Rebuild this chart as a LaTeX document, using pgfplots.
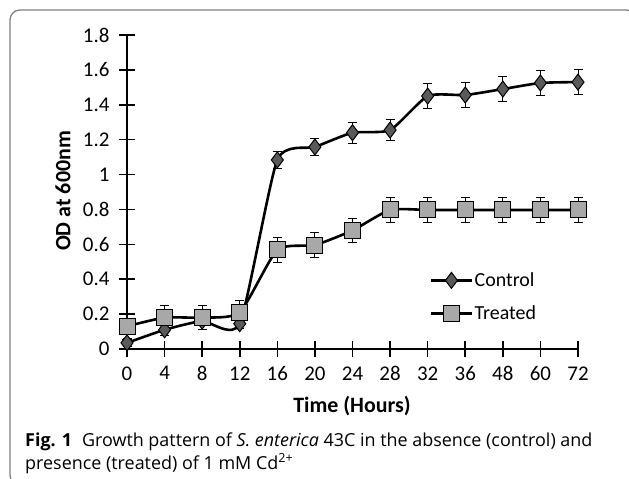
\documentclass[border=0pt]{standalone}
\usepackage{pgfplots}
\pgfplotsset{compat=1.18}
\usepackage{fontspec}
\setmainfont{Carlito}
\newfontfamily\capfont{Open Sans}
\definecolor{ctrlfill}{HTML}{5A5A5A}
\definecolor{trtfill}{HTML}{A8A8A8}
\pgfplotstableread{
x y e
0 0.035 0.02
1 0.11 0.03
2 0.16 0.05
3 0.145 0.03
4 1.084 0.05
5 1.158 0.05
6 1.24 0.06
7 1.255 0.06
8 1.45 0.07
9 1.456 0.07
10 1.49 0.07
11 1.525 0.07
12 1.53 0.07
}\control
\pgfplotstableread{
x y e
0 0.13 0.07
1 0.18 0.07
2 0.18 0.07
3 0.21 0.07
4 0.568 0.07
5 0.596 0.07
6 0.68 0.07
7 0.797 0.07
8 0.797 0.07
9 0.797 0.07
10 0.797 0.07
11 0.797 0.07
12 0.797 0.07
}\treated
\begin{document}
\begin{tikzpicture}
\useasboundingbox (0bp,0bp) rectangle (629bp,479bp);
\begin{scope}
\clip (0bp,0bp) rectangle (629bp,479bp);
\draw[black!50, line width=1.3bp, rounded corners=10bp] (10bp,-6bp) rectangle (636bp,469bp);
\end{scope}
\begin{axis}[
  at={(127bp,130bp)}, anchor=south west,
  scale only axis, width=451bp, height=314bp,
  xmin=0, xmax=12, ymin=0, ymax=1.8,
  clip=false,
  axis lines=left,
  axis line style={-, line width=1.6bp},
  xtick={0,...,12},
  xticklabels={0,4,8,12,16,20,24,28,32,36,48,60,72},
  ytick={0,0.2,0.4,0.6,0.8,1,1.2,1.4,1.6,1.8},
  yticklabels={0,0.2,0.4,0.6,0.8,1,1.2,1.4,1.6,1.8},
  tick align=center,
  major tick length=16bp,
  tick style={line width=1.6bp, black},
  /pgf/number format/assume math mode=true,
  ticklabel style={font=\fontsize{21}{22}\selectfont},
  yticklabel style={xshift=-6bp},
  xticklabel style={yshift=-6bp},
  legend style={at={(axis cs:8.06,0.45)}, anchor=north west, draw=none, fill=none,
    font=\fontsize{20}{21}\selectfont, row sep=14bp, inner sep=0pt, cells={anchor=west}},
  legend cell align=left,
  legend image code/.code={
    \draw[mark repeat=2,mark phase=2] plot coordinates {(0bp,0bp) (20bp,0bp) (40bp,0bp)};
  },
]
\addplot[black, line width=2.6bp, smooth, tension=0.35,
  mark=diamond*, mark size=8bp, mark options={fill=ctrlfill, draw=black, line width=1bp, solid},
  error bars/.cd, y dir=both, y explicit,
  error bar style={line width=0.9bp, black},
  error mark options={rotate=90, mark size=4.5bp, line width=0.9bp}]
  table[x=x, y=y, y error=e] {\control};
\addlegendentry{Control}
\addplot[black, line width=2.6bp, smooth, tension=0.35,
  mark=square*, mark size=8bp, mark options={fill=trtfill, draw=black, line width=1bp, solid},
  error bars/.cd, y dir=both, y explicit,
  error bar style={line width=0.9bp, black},
  error mark options={rotate=90, mark size=4.5bp, line width=0.9bp}]
  table[x=x, y=y, y error=e] {\treated};
\addlegendentry{Treated}
\end{axis}
\node[rotate=90, font=\bfseries\fontsize{22}{24}\selectfont] at (63bp,288bp) {OD at 600nm};
\node[font=\bfseries\fontsize{22}{24}\selectfont] at (352bp,73bp) {Time (Hours)};
\node[anchor=base west, inner sep=0pt, font=\capfont\fontsize{18}{20}\selectfont] at (25bp,33bp)
  {\textbf{Fig. 1}\hspace{0.55em}Growth pattern of \textit{S. enterica} 43C in the absence (control) and};
\node[anchor=base west, inner sep=0pt, font=\capfont\fontsize{18}{20}\selectfont] at (25bp,10bp)
  {presence (treated) of 1 mM Cd\textsuperscript{2+}};
\end{tikzpicture}
\end{document}
